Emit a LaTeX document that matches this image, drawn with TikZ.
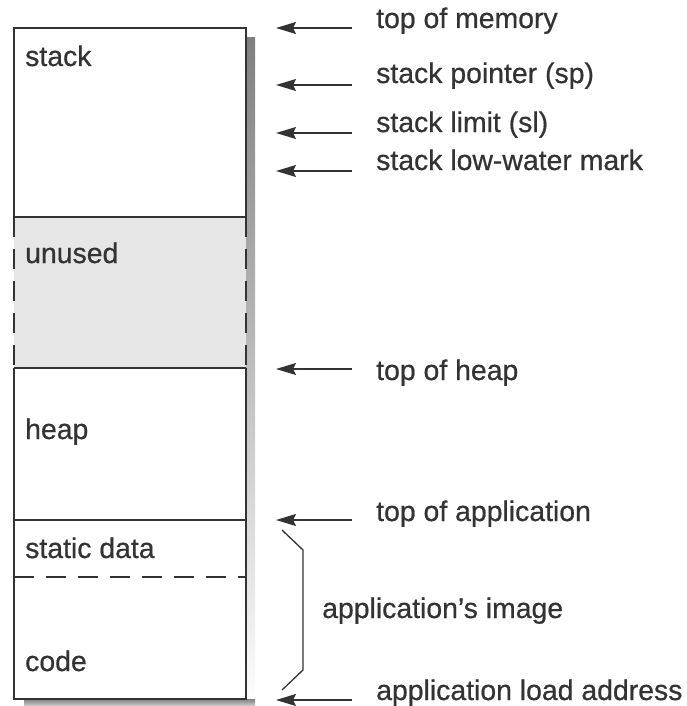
\documentclass[tikz,border=0pt]{standalone}
\usepackage{fontspec}
\setmainfont{Liberation Sans}
\newfontfamily\lblfont{Liberation Sans}[BoldFont={Liberation Sans}, BoldFeatures={FakeBold=0.6}]
\usetikzlibrary{arrows.meta}
\definecolor{ink}{HTML}{333333}
\definecolor{shade}{HTML}{9C9C9C}
\definecolor{unusedfill}{HTML}{E6E6E6}
\begin{document}
\begin{tikzpicture}[x=1pt,y=-1pt,
  lbl/.style={anchor=base west, inner sep=0pt, text=ink, font=\lblfont\bfseries\fontsize{28.4}{32}\selectfont},
  arr/.style={draw=ink, line width=1.5pt, -{Stealth[length=20pt,width=12pt,inset=3pt]}},
  region/.style={minimum width=232pt, inner sep=0pt, outer sep=0pt, anchor=north west},
  boxline/.style={draw=ink, line width=1.8pt},
  dashline/.style={draw=ink, line width=1.6pt, dash pattern=on 20pt off 12pt}]
\useasboundingbox (0,0) rectangle (687,706);
% shadow
\fill[shade] (246,38) rectangle (255,710);
\fill[shade] (24,699) rectangle (255,710);
% regions
\node[region, minimum height=189pt, fill=white] (stack) at (14,28) {};
\node[region, minimum height=151pt, fill=unusedfill] (unused) at (14,217) {};
\node[region, minimum height=152pt, fill=white] (heap) at (14,368) {};
\node[region, minimum height=57pt, fill=white] (static) at (14,520) {};
\node[region, minimum height=122pt, fill=white] (code) at (14,577) {};
% outlines
\draw[boxline] (stack.south west) -- (stack.north west) -- (stack.north east) -- (stack.south east);
\draw[boxline] (stack.south west) -- (stack.south east);
\draw[dashline] (unused.north west) -- (unused.south west);
\draw[dashline] (unused.north east) -- (unused.south east);
\draw[boxline] (heap.north west) -- (heap.north east);
\draw[boxline] (heap.north west) -- (code.south west) -- (code.south east) -- (heap.north east);
\draw[boxline, line width=1.4pt] (static.north west) -- (static.north east);
\draw[dashline] (static.south west) -- (static.south east);
% region labels
\node[lbl] (lstack) at (25,66) {stack};
\node[lbl] (lunused) at (25,263) {unused};
\node[lbl] (lheap) at (25,439) {heap};
\node[lbl] (lstatic) at (25,558) {static data};
\node[lbl] (lcode) at (25,671) {code};
% arrows
\coordinate (t1) at (352,28);  \coordinate (h1) at (276,28);
\coordinate (t2) at (352,85);  \coordinate (h2) at (276,85);
\coordinate (t3) at (352,133); \coordinate (h3) at (276,133);
\coordinate (t4) at (352,171); \coordinate (h4) at (276,171);
\coordinate (t5) at (352,369); \coordinate (h5) at (276,369);
\coordinate (t6) at (352,520); \coordinate (h6) at (276,520);
\coordinate (t7) at (352,700); \coordinate (h7) at (276,700);
\foreach \i in {1,...,7} {\draw[arr] (t\i) -- (h\i);}
% arrow labels
\node[lbl] (r1) at (376,28) {top of memory};
\node[lbl] (r2) at (376,83) {stack pointer (sp)};
\node[lbl] (r3) at (376,132) {stack limit (sl)};
\node[lbl] (r4) at (376,170) {stack low-water mark};
\node[lbl] (r5) at (376,380) {top of heap};
\node[lbl] (r6) at (376,521) {top of application};
\node[lbl] (r7) at (376,700) {application load address};
% brace
\coordinate (b1) at (282,530);
\coordinate (b2) at (303,550);
\coordinate (b3) at (303,670);
\coordinate (b4) at (282,690);
\draw[draw=ink, line width=1.3pt] (b1) -- (b2) -- (b3) -- (b4);
\node[lbl] (img) at (322,618) {application’s image};
\end{tikzpicture}
\end{document}
